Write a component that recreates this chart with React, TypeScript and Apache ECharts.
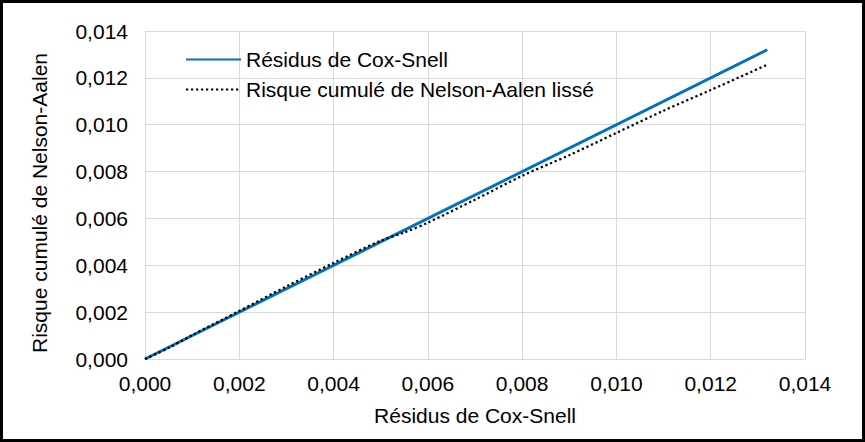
import React, { useEffect, useRef } from "react";
import * as echarts from "echarts";

const seriesNames = ["Résidus de Cox-Snell", "Risque cumulé de Nelson-Aalen lissé"];
const xAxisName = "Résidus de Cox-Snell";
const yAxisName = "Risque cumulé de Nelson-Aalen";

const coxSnellX = [0, 0.0132];
const coxSnellY = [0, 0.0132];

const nelsonX = [0, 0.0005, 0.001, 0.002, 0.003, 0.004, 0.005, 0.0055, 0.006, 0.007, 0.008, 0.009, 0.01, 0.011, 0.012, 0.0132];
const nelsonY = [0, 0.00047, 0.00102, 0.00205, 0.0031, 0.0041, 0.00505, 0.0054, 0.00582, 0.0068, 0.00782, 0.0087, 0.00965, 0.0106, 0.01148, 0.01256];

const FONT = "'Liberation Sans', Arial, sans-serif";
const fmt = (v: number) => v.toFixed(3).replace(".", ",");

export default function App() {
  const ref = useRef<HTMLDivElement>(null);
  useEffect(() => {
    if (!ref.current) return;
    const chart = echarts.init(ref.current, undefined, { renderer: "svg" });
    const axisCommon = {
      type: "value" as const,
      min: 0,
      max: 0.014,
      interval: 0.002,
      nameLocation: "middle" as const,
      axisLine: { show: true, lineStyle: { color: "#d9d9d9", width: 1 } },
      axisTick: { show: false },
      splitLine: { show: true, lineStyle: { color: "#d9d9d9", width: 1 } },
    };
    chart.setOption({
      animation: false,
      backgroundColor: "#fff",
      textStyle: { fontFamily: FONT },
      grid: { left: 145, right: 60, top: 31, bottom: 83, containLabel: false },
      legend: {
        orient: "vertical",
        left: 180,
        top: 44,
        itemWidth: 55,
        itemHeight: 14,
        itemGap: 9,
        itemStyle: { opacity: 0 },
        textStyle: { fontSize: 21, color: "#000", fontFamily: FONT },
        data: seriesNames,
      },
      xAxis: {
        ...axisCommon,
        name: xAxisName,
        nameGap: 46,
        nameTextStyle: { fontSize: 21, color: "#000", fontFamily: FONT },
        axisLabel: { fontSize: 21, color: "#000", fontFamily: FONT, margin: 14, formatter: fmt },
      },
      yAxis: {
        ...axisCommon,
        name: yAxisName,
        nameGap: 95,
        nameTextStyle: { fontSize: 21, color: "#000", fontFamily: FONT, padding: [0, 16, 0, 0] },
        axisLabel: { fontSize: 21, color: "#000", fontFamily: FONT, margin: 17, formatter: fmt },
      },
      series: [
        {
          name: seriesNames[0],
          type: "line",
          symbol: "none",
          showSymbol: false,
          lineStyle: { color: "#0070c0", width: 3 },
          itemStyle: { color: "#0070c0" },
          data: coxSnellX.map((x, i) => [x, coxSnellY[i]]),
        },
        {
          name: seriesNames[1],
          type: "line",
          symbol: "none",
          showSymbol: false,
          smooth: 0.3,
          lineStyle: { color: "#000", width: 2.25, type: [2.25, 2.75] },
          itemStyle: { color: "#000" },
          data: nelsonX.map((x, i) => [x, nelsonY[i]]),
        },
      ],
    });
    return () => chart.dispose();
  }, []);
  return (
    <div style={{ position: "absolute", left: 0, top: 0, width: 865, height: 442, background: "#fff" }}>
      <div ref={ref} style={{ position: "absolute", left: 0, top: 0, width: 865, height: 442 }} />
      <div
        style={{
          position: "absolute",
          left: 0,
          top: 0,
          width: 865,
          height: 442,
          boxSizing: "border-box",
          border: "3px solid #000",
          pointerEvents: "none",
        }}
      />
    </div>
  );
}
